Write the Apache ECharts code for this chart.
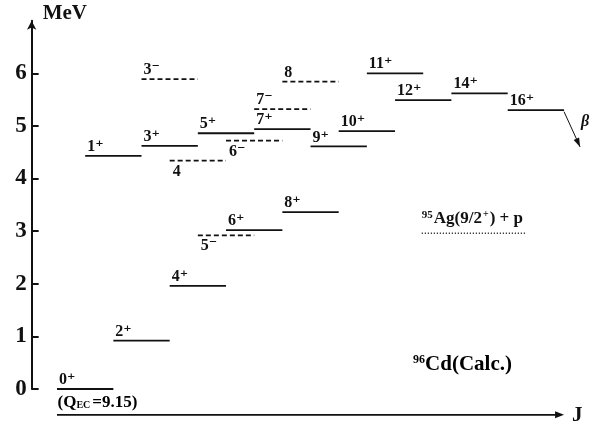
<!DOCTYPE html>
<html><head><meta charset="utf-8">
<script src="https://cdn.jsdelivr.net/npm/echarts@6/dist/echarts.min.js"></script>
<style>html,body{margin:0;padding:0;background:#fff}#c{width:592px;height:426px}</style>
</head><body><div id="c"></div>
<script>
// ---- data ----
const levelSpin   = [0, 1, 2, 3, 3, 4, 4, 5, 5, 6, 6, 7, 7, 8, 8, 9, 10, 11, 12, 14, 16];
const levelEnergy = [0.00, 4.43, 0.92, 4.62, 5.89, 1.96, 4.34, 4.86, 2.92, 3.02, 4.72, 4.94, 5.32, 3.36, 5.84, 4.61, 4.90, 6.00, 5.49, 5.62, 5.30];
const levelParity = ['+','+','+','+','-','+','-','+','-','+','-','+','-','+','-','+','+','+','+','+','+'];
const levelLabels = ['0⁺','1⁺','2⁺','3⁺','3⁻','4⁺','4','5⁺','5⁻','6⁺','6⁻','7⁺','7⁻','8⁺','8','9⁺','10⁺','11⁺','12⁺','14⁺','16⁺'];
const yTicks = [0, 1, 2, 3, 4, 5, 6];
const thresholdEnergy = 2.96;
const thresholdSpan = [12.95, 16.65];
const thresholdLabel = '{sup|95}{t|Ag(9/2}{sup2|+}{t|) + p}';
const nucleusLabel = '{sup|96}{t|Cd(Calc.)}';
const qLabel = '{t|(Q}{sub|EC}{t|=9.15)}';
const yTitle = 'MeV';
const xTitle = 'J';
const betaLabel = 'β';

// ---- layout / style ----
const LEVEL_WIDTH = 2;
const labelsBelow = ['4', '5⁻', '6⁻'];
const INK = '#111';
const SERIF = '"Liberation Serif", "DejaVu Serif", serif';

const chart = echarts.init(document.getElementById('c'));

function levelItem(params, api) {
  const i = params.dataIndex;
  const j = api.value(0), e = api.value(1);
  const p1 = api.coord([j, e]), p2 = api.coord([j + LEVEL_WIDTH, e]);
  const dashed = levelParity[i] === '-';
  const below = labelsBelow.includes(levelLabels[i]);
  return {
    type: 'group',
    children: [
      { type: 'line', shape: { x1: p1[0], y1: p1[1], x2: p2[0], y2: p2[1] },
        style: { stroke: INK, lineWidth: 1.8, lineDash: dashed ? [5, 3] : null } },
      { type: 'text', x: p1[0] + (below ? 3 : 2), y: below ? p1[1] + 3 : p1[1] - 1,
        style: { text: levelLabels[i], font: 'bold 16px ' + SERIF, fill: INK,
                 align: 'left', verticalAlign: below ? 'top' : 'bottom' } }
    ]
  };
}

function arrowHead(tip, from, len, half) {
  const dx = tip[0] - from[0], dy = tip[1] - from[1];
  const d = Math.hypot(dx, dy); const ux = dx / d, uy = dy / d;
  const bx = tip[0] - ux * len, by = tip[1] - uy * len;
  return [[tip[0], tip[1]], [bx - uy * half, by + ux * half], [bx + uy * half, by - ux * half]];
}

const option = {
  animation: false,
  backgroundColor: '#fff',
  grid: { left: 31.65, right: 11.04, top: 20.66, bottom: 37, containLabel: false, outerBoundsMode: 'none' },
  xAxis: { type: 'value', min: -0.9, max: 18.6, show: false },
  yAxis: {
    type: 'value', min: 0, max: 7, interval: 1,
    name: yTitle, nameLocation: 'end', nameGap: 7,
    nameTextStyle: { fontFamily: SERIF, fontWeight: 'bold', fontSize: 21, color: INK, align: 'left', verticalAlign: 'middle', padding: [0, 0, 0, 11] },
    axisLine: { show: true, onZero: false, symbol: ['none', 'arrow'], symbolSize: [7, 9], lineStyle: { color: INK, width: 2 } },
    axisTick: { show: true, inside: true, length: 7, customValues: yTicks, lineStyle: { color: INK, width: 2 } },
    axisLabel: { customValues: yTicks, margin: 5, color: INK, fontFamily: SERIF, fontWeight: 'bold', fontSize: 23 },
    splitLine: { show: false }
  },
  series: [
    {
      type: 'custom', clip: false,
      data: levelSpin.map((j, i) => [j, levelEnergy[i]]),
      renderItem: levelItem
    },
    {
      type: 'custom', clip: false,
      data: [[thresholdSpan[0], thresholdSpan[1], thresholdEnergy]],
      renderItem(params, api) {
        const a = api.coord([api.value(0), api.value(2)]);
        const b = api.coord([api.value(1), api.value(2)]);
        return { type: 'group', children: [
          { type: 'line', shape: { x1: a[0], y1: a[1], x2: b[0], y2: b[1] },
            style: { stroke: INK, lineWidth: 1.5, lineDash: [1, 2] } },
          { type: 'text', x: a[0], y: a[1] - 5,
            style: { text: thresholdLabel, fill: INK, align: 'left', verticalAlign: 'bottom',
              rich: {
                t: { fontFamily: SERIF, fontWeight: 'bold', fontSize: 17, color: INK },
                sup: { fontFamily: SERIF, fontWeight: 'bold', fontSize: 11, color: INK, padding: [0, 1, 8, 0] },
                sup2: { fontFamily: SERIF, fontWeight: 'bold', fontSize: 10, color: INK, padding: [0, 1, 8, 1] }
              } } }
        ]};
      }
    },
    {
      // J axis arrow (drawn below E = 0)
      type: 'custom', clip: false,
      data: [[0, -0.49, 18.0]],
      renderItem(params, api) {
        const a = api.coord([api.value(0), api.value(1)]);
        const b = api.coord([api.value(2), api.value(1)]);
        return { type: 'group', children: [
          { type: 'line', shape: { x1: a[0], y1: a[1], x2: b[0] - 4, y2: b[1] }, style: { stroke: INK, lineWidth: 1.8 } },
          { type: 'polygon', shape: { points: arrowHead(b, a, 9, 3.5) }, style: { fill: INK } },
          { type: 'text', x: b[0] + 8, y: b[1] + 1,
            style: { text: xTitle, font: 'bold 21px ' + SERIF, fill: INK, align: 'left', verticalAlign: 'middle' } }
        ]};
      }
    },
    {
      // beta decay arrow
      type: 'custom', clip: false,
      data: [[18.0, 5.27, 18.57, 4.60]],
      renderItem(params, api) {
        const a = api.coord([api.value(0), api.value(1)]);
        const b = api.coord([api.value(2), api.value(3)]);
        return { type: 'group', children: [
          { type: 'line', shape: { x1: a[0], y1: a[1], x2: b[0], y2: b[1] }, style: { stroke: INK, lineWidth: 1 } },
          { type: 'polygon', shape: { points: arrowHead(b, a, 9, 3) }, style: { fill: INK } },
          { type: 'text', x: a[0] + 17, y: a[1] + 10,
            style: { text: betaLabel, font: 'italic bold 16px ' + SERIF, fill: INK, align: 'left', verticalAlign: 'middle' } }
        ]};
      }
    },
    {
      // text annotations
      type: 'custom', clip: false,
      data: [[0.02, -0.25, 0], [12.64, 0.46, 1]],
      renderItem(params, api) {
        const p = api.coord([api.value(0), api.value(1)]);
        const which = api.value(2);
        if (which === 0) {
          return { type: 'text', x: p[0], y: p[1],
            style: { text: qLabel, align: 'left', verticalAlign: 'middle',
              rich: {
                t: { fontFamily: SERIF, fontWeight: 'bold', fontSize: 17, color: INK },
                sub: { fontFamily: SERIF, fontWeight: 'bold', fontSize: 10, color: INK, padding: [6, 2, 0, 0] }
              } } };
        }
        return { type: 'text', x: p[0], y: p[1],
          style: { text: nucleusLabel, align: 'left', verticalAlign: 'middle',
            rich: {
              t: { fontFamily: SERIF, fontWeight: 'bold', fontSize: 21, color: INK },
              sup: { fontFamily: SERIF, fontWeight: 'bold', fontSize: 12, color: INK, padding: [0, 0, 10, 0] }
            } } };
      }
    }
  ]
};
chart.setOption(option);
</script>
</body></html>
